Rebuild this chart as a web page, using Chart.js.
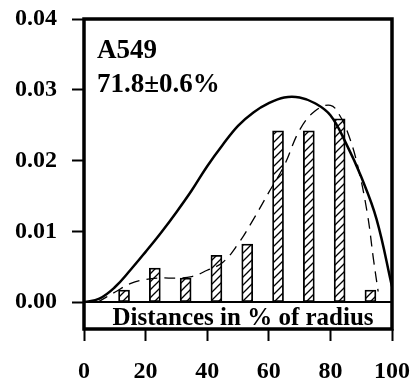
<!DOCTYPE html>
<html>
<head>
<meta charset="utf-8">
<script src="https://cdn.jsdelivr.net/npm/chart.js@4/dist/chart.umd.min.js"></script>
<style>
  html, body { margin: 0; padding: 0; background: #fff; }
  canvas { display: block; }
</style>
</head>
<body>
<canvas id="distChart" width="414" height="384"></canvas>
<script>
// histogram bins (% of radius) and frequencies
var binCenters = [13, 23, 33, 43, 53, 63, 73, 83, 93];
var binValues = [0.0017, 0.0048, 0.0034, 0.0066, 0.0082, 0.0242, 0.0242, 0.0259, 0.0017];

// solid fitted curve
var fitX = [0, 5, 10, 15, 20, 25, 30, 35, 40, 45, 50, 55, 60, 65, 70, 75, 80, 85, 90, 95, 100];
var fitY = [0, 0.0005, 0.0021, 0.0045, 0.0071, 0.0098, 0.0127, 0.0158, 0.0192, 0.0222, 0.0249,
            0.0268, 0.0281, 0.0289, 0.0289, 0.0281, 0.0264, 0.0225, 0.0177, 0.0117, 0.0022];

// dashed curve
var dashX = [4.5, 10, 15, 20, 25, 30, 35, 40, 45, 50, 55, 60, 65, 70, 75, 80, 83, 86, 89, 92, 94, 95.5];
var dashY = [0, 0.0014, 0.0026, 0.0032, 0.0034, 0.0034, 0.0036, 0.0045, 0.0056, 0.0082, 0.0117,
             0.0155, 0.0193, 0.0243, 0.0270, 0.0278, 0.0264, 0.0235, 0.0190, 0.0125, 0.0060, 0.0015];

var yTicks = [0, 0.01, 0.02, 0.03, 0.04];
var xTicks = [0, 20, 40, 60, 80, 100];

function pairs(xs, ys) {
  return xs.map(function (x, i) { return { x: x, y: ys[i] }; });
}

// diagonal hatch fill for the bars
function hatch() {
  var c = document.createElement('canvas');
  c.width = 8; c.height = 8;
  var g = c.getContext('2d');
  g.fillStyle = '#fff';
  g.fillRect(0, 0, 8, 8);
  g.strokeStyle = '#000';
  g.lineWidth = 1.3;
  g.beginPath();
  g.moveTo(0, 8); g.lineTo(8, 0);
  g.moveTo(-2, 2); g.lineTo(2, -2);
  g.moveTo(6, 10); g.lineTo(10, 6);
  g.stroke();
  return g.createPattern(c, 'repeat');
}

var serif = '"Liberation Serif", "Times New Roman", serif';

var boxPlugin = {
  id: 'box',
  afterDatasetsDraw: function (chart) {
    var ctx = chart.ctx, a = chart.chartArea;
    var y0 = chart.scales.y.getPixelForValue(0);
    ctx.save();
    ctx.strokeStyle = '#000';
    ctx.lineWidth = 2;
    ctx.beginPath();
    ctx.moveTo(a.left, y0);
    ctx.lineTo(a.right, y0);
    ctx.stroke();
    ctx.lineWidth = 3.5;
    ctx.strokeRect(a.left, a.top, a.right - a.left, a.bottom - a.top);

    ctx.fillStyle = '#000';
    ctx.textBaseline = 'alphabetic';
    ctx.textAlign = 'left';
    ctx.font = 'bold 27px ' + serif;
    ctx.fillText('A549', 97, 58);
    ctx.fillText('71.8\u00b10.6%', 97, 92);

    ctx.textAlign = 'center';
    ctx.font = 'bold 25px ' + serif;
    ctx.fillText('Distances in % of radius', 243, 325);
    ctx.restore();
  }
};

var ctx = document.getElementById('distChart');
var distChart = new Chart(ctx, {
  type: 'bar',
  data: {
    datasets: [
      {
        type: 'line',
        data: pairs(fitX, fitY),
        borderColor: '#000',
        borderWidth: 2.5,
        pointRadius: 0,
        tension: 0.4,
        fill: false
      },
      {
        type: 'line',
        data: pairs(dashX, dashY),
        borderColor: '#000',
        borderWidth: 1.3,
        borderDash: [11, 7],
        pointRadius: 0,
        tension: 0.4,
        fill: false
      },
      {
        type: 'bar',
        data: pairs(binCenters, binValues),
        backgroundColor: hatch(),
        borderColor: '#000',
        borderWidth: 1.8,
        borderSkipped: false,
        barThickness: 11
      }
    ]
  },
  options: {
    responsive: false,
    animation: false,
    layout: { padding: { left: 0, top: 19, right: 22, bottom: 0 } },
    plugins: { legend: { display: false }, tooltip: { enabled: false } },
    scales: {
      x: {
        type: 'linear',
        min: 0,
        max: 100,
        offset: false,
        afterBuildTicks: function (s) { s.ticks = xTicks.map(function (v) { return { value: v }; }); },
        afterFit: function (s) { s.height = 55; s.paddingLeft = 0; s.paddingRight = 0; },
        border: { display: false },
        grid: { offset: false, drawOnChartArea: false, drawTicks: true, tickLength: 12, tickColor: '#000', tickWidth: 2 },
        ticks: { color: '#000', padding: 16, maxRotation: 0, autoSkip: false, font: { family: serif, size: 24, weight: 'bold' } }
      },
      y: {
        min: -0.0038,
        max: 0.04,
        afterBuildTicks: function (s) { s.ticks = yTicks.map(function (v) { return { value: v }; }); },
        afterFit: function (s) { s.width = 84; s.paddingTop = 0; s.paddingBottom = 0; },
        border: { display: false },
        grid: { drawOnChartArea: false, drawTicks: true, tickLength: 12, tickColor: '#000', tickWidth: 2 },
        ticks: {
          color: '#000',
          padding: 15,
          autoSkip: false,
          font: { family: serif, size: 24, weight: 'bold' },
          callback: function (v) { return v.toFixed(2); }
        }
      }
    }
  },
  plugins: [boxPlugin]
});
</script>
</body>
</html>
